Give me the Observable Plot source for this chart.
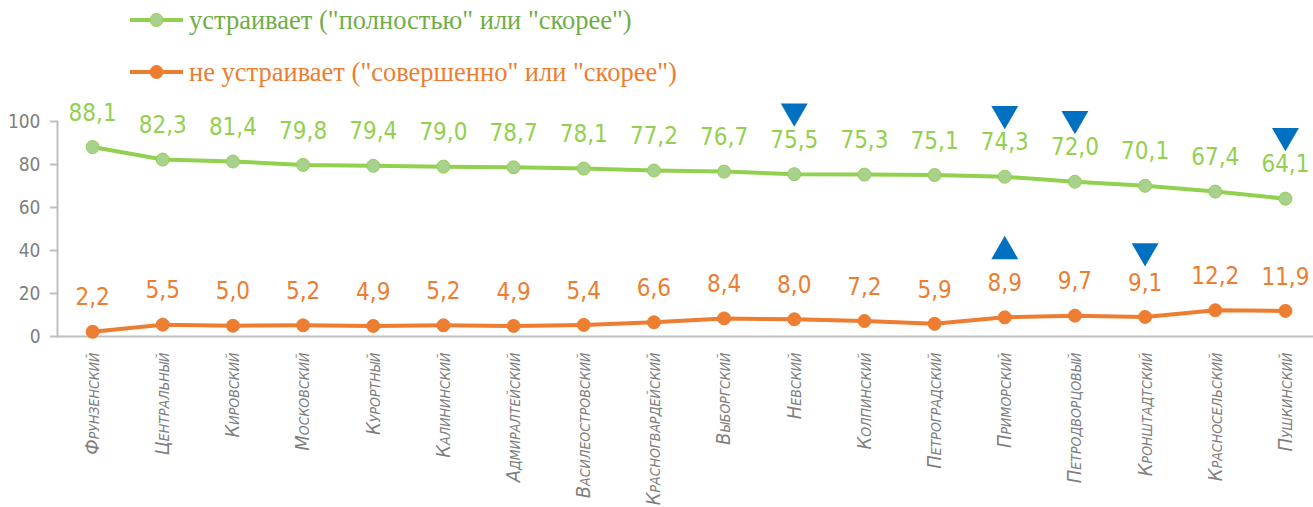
<!DOCTYPE html>
<html><head><meta charset="utf-8">
<script src="https://cdn.jsdelivr.net/npm/d3@7"></script>
<script src="https://cdn.jsdelivr.net/npm/@observablehq/plot@0.6"></script>
<style>
body{margin:0;background:#fff;overflow:hidden;}
#legend{position:relative;height:90px;width:1313px;font-family:"Liberation Serif","Times New Roman",serif;font-size:26.5px;}
.item{position:absolute;left:130px;display:flex;align-items:center;height:30px;white-space:nowrap;}
.item svg{margin-right:3px;}
</style></head><body>
<div id="legend"></div><div id="chart"></div>
<script>
const districts = ["Фрунзенский","Центральный","Кировский","Московский","Курортный","Калининский","Адмиралтейский","Василеостровский","Красногвардейский","Выборгский","Невский","Колпинский","Петроградский","Приморский","Петродворцовый","Кронштадтский","Красносельский","Пушкинский"];
const satisfied = [88.1,82.3,81.4,79.8,79.4,79.0,78.7,78.1,77.2,76.7,75.5,75.3,75.1,74.3,72.0,70.1,67.4,64.1];
const unsatisfied = [2.2,5.5,5.0,5.2,4.9,5.2,4.9,5.4,6.6,8.4,8.0,7.2,5.9,8.9,9.7,9.1,12.2,11.9];
const satisfiedChange = ["","","","","","","","","","","down","","","down","down","","","down"];
const unsatisfiedChange = ["","","","","","","","","","","","","","up","","down","",""];
const yTicks = [0,20,40,60,80,100];
const seriesNames = ['устраивает ("полностью" или "скорее")','не устраивает ("совершенно" или "скорее")'];
const lineColors = ["#92D050","#ED7D31"];
const dotFills = ["#A9D18E","#ED7D31"];
const legendTextColors = ["#70AD47","#ED7D31"];

// legend
const legend = document.getElementById("legend");
seriesNames.forEach((name,k)=>{
  const div = document.createElement("div");
  div.className="item";
  div.style.top = (k===0 ? 5 : 57) + "px";
  div.style.color = legendTextColors[k];
  div.innerHTML = `<svg width="56" height="16"><line x1="0" x2="53" y1="8" y2="8" stroke="${lineColors[k]}" stroke-width="4"/><circle cx="26.5" cy="8" r="6.5" fill="${dotFills[k]}" stroke="${lineColors[k]}" stroke-width="1"/></svg><span>${name}</span>`;
  legend.appendChild(div);
});

const rows = districts.map((d,i)=>({i, d, s: satisfied[i], u: unsatisfied[i], sc: satisfiedChange[i], uc: unsatisfiedChange[i]}));
const fmt = v => d3.format(".1f")(v).replace(".", ",");
const font = '"Liberation Sans Narrow","DejaVu Sans Condensed",sans-serif';

const chart = Plot.plot({
  width: 1313, height: 417,
  marginLeft: 57, marginRight: 0, marginTop: 31, marginBottom: 171,
  x: {domain: [-0.5, 17.4], axis: null, label: null},
  y: {domain: [0, 100], axis: null, label: null},
  style: {fontFamily: font, background: "white", overflow: "visible"},
  marks: [
    Plot.axisY({ticks: yTicks, label: null, tickSize: 7, tickPadding: 10, fontSize: 19, fill: "#7f7f7f", stroke: "#bfbfbf", strokeWidth: 2, tickFormat: d3.format("d")}),
    Plot.frame({anchor: "left", stroke: "#bfbfbf", strokeWidth: 2}),
    Plot.frame({anchor: "bottom", stroke: "#bfbfbf", strokeWidth: 2}),
    Plot.axisX({ticks: d3.range(districts.length), label: null, tickFormat: i => districts[i], tickRotate: -90, tickSize: 0, tickPadding: 16, fontSize: 20, fontStyle: "italic", fontVariant: "small-caps", fill: "#7f7f7f"}),
    Plot.line(rows, {x: "i", y: "s", stroke: lineColors[0], strokeWidth: 4}),
    Plot.line(rows, {x: "i", y: "u", stroke: lineColors[1], strokeWidth: 4}),
    Plot.dot(rows, {x: "i", y: "s", r: 6.5, fill: dotFills[0], stroke: lineColors[0], strokeWidth: 1}),
    Plot.dot(rows, {x: "i", y: "u", r: 6.5, fill: dotFills[1], stroke: lineColors[1], strokeWidth: 1}),
    Plot.text(rows, {x: "i", y: "s", text: d => fmt(d.s), dy: -34, fill: lineColors[0], fontSize: 24}),
    Plot.text(rows, {x: "i", y: "u", text: d => fmt(d.u), dy: -34, fill: lineColors[1], fontSize: 24}),
    Plot.dot(rows.filter(d => d.sc), {x: "i", y: "s", dy: -63, symbol: "triangle", r: 10, rotate: d => d.sc === "down" ? 180 : 0, fill: "#0070C0", stroke: "none"}),
    Plot.dot(rows.filter(d => d.uc), {x: "i", y: "u", dy: -66, symbol: "triangle", r: 10, rotate: d => d.uc === "down" ? 180 : 0, fill: "#0070C0", stroke: "none"})
  ]
});
document.getElementById("chart").appendChild(chart);
</script>
</body></html>
